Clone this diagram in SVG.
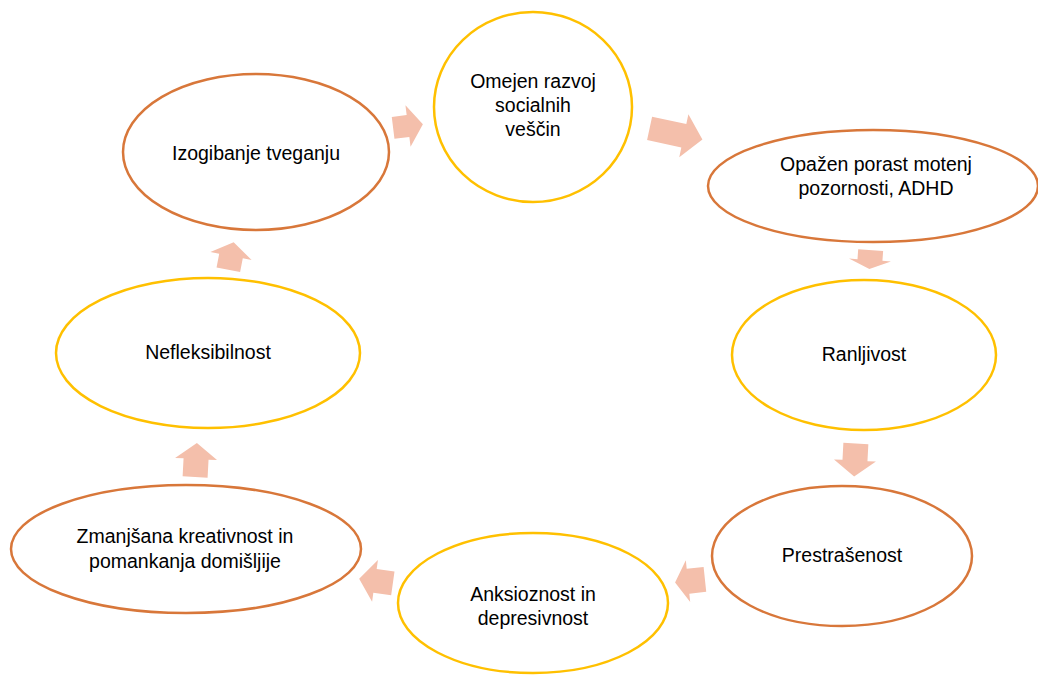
<svg xmlns="http://www.w3.org/2000/svg" width="1038" height="677" viewBox="0 0 1038 677">
<style>
.o{fill:#fff;stroke:#D8773A;stroke-width:2.5}
.y{fill:#fff;stroke:#FFC000;stroke-width:2.5}
.a{fill:#F4BFAB;stroke:none}
text{font-family:"Liberation Sans",Arial,sans-serif;font-size:19.5px;fill:#000;text-anchor:middle}
</style>
<rect width="1038" height="677" fill="#fff"/>
<g id="connectors">
<polygon class="a" transform="translate(408,126) rotate(-7)" points="-15,-11 0,-11 0,-21 15,0 0,21 0,11 -15,11"/>
<polygon class="a" transform="translate(676,134) rotate(12)" points="-27,-12 8,-12 8,-22 27,0 8,22 8,12 -27,12"/>
<polygon class="a" transform="translate(870,259.5) rotate(94)" points="-9.5,-12.5 0.5,-12.5 0.5,-21 9.5,0 0.5,21 0.5,12.5 -9.5,12.5"/>
<polygon class="a" transform="translate(855,460) rotate(93)" points="-16.5,-12.5 0.5,-12.5 0.5,-21 16.5,0 0.5,21 0.5,12.5 -16.5,12.5"/>
<polygon class="a" transform="translate(690,581) rotate(174)" points="-15,-12.5 2,-12.5 2,-21 15,0 2,21 2,12.5 -15,12.5"/>
<polygon class="a" transform="translate(376,581) rotate(188)" points="-17,-12 1,-12 1,-21 17,0 1,21 1,12 -17,12"/>
<polygon class="a" transform="translate(196,460) rotate(-87)" points="-17,-12.5 1,-12.5 1,-21 17,0 1,21 1,12.5 -17,12.5"/>
<polygon class="a" transform="translate(231,256) rotate(-79)" points="-14,-12 0,-12 0,-21 14,0 0,21 0,12 -14,12"/>
</g>
<g id="n1"><ellipse class="y" cx="533" cy="107" rx="99" ry="95"/><text x="533" y="88">Omejen razvoj</text><text x="533" y="112">socialnih</text><text x="533" y="136">veščin</text></g>
<g id="n2"><ellipse class="o" cx="873" cy="186" rx="165" ry="56"/><text x="876" y="171">Opažen porast motenj</text><text x="876" y="195">pozornosti, ADHD</text></g>
<g id="n3"><ellipse class="y" cx="864" cy="355" rx="132" ry="75"/><text x="864" y="361">Ranljivost</text></g>
<g id="n4"><ellipse class="o" cx="842" cy="556" rx="130" ry="70"/><text x="842" y="562">Prestrašenost</text></g>
<g id="n5"><ellipse class="y" cx="533" cy="603" rx="135" ry="70"/><text x="533" y="601">Anksioznost in</text><text x="533" y="625">depresivnost</text></g>
<g id="n6"><ellipse class="o" cx="186" cy="549" rx="175" ry="64"/><text x="185" y="543">Zmanjšana kreativnost in</text><text x="185" y="568">pomankanja domišljije</text></g>
<g id="n7"><ellipse class="y" cx="208" cy="353" rx="152" ry="75"/><text x="208" y="359">Nefleksibilnost</text></g>
<g id="n8"><ellipse class="o" cx="256" cy="152" rx="133" ry="78"/><text x="256" y="160">Izogibanje tveganju</text></g>
</svg>
